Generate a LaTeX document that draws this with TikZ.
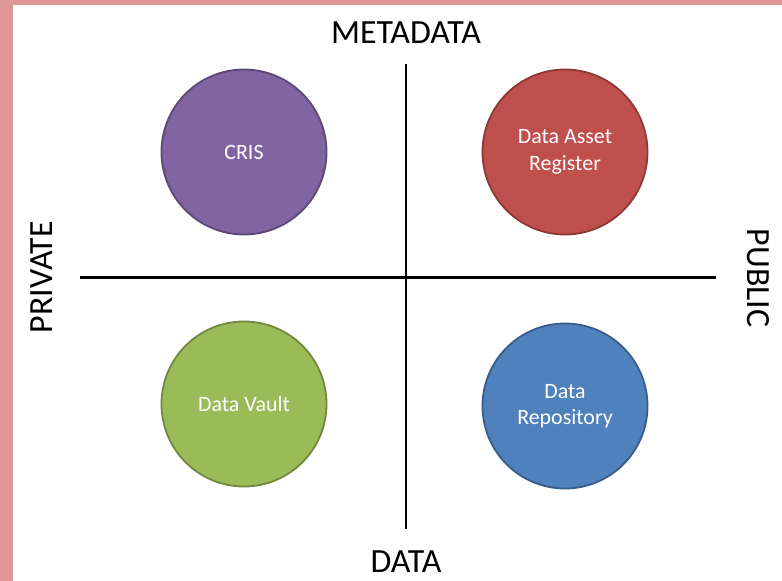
\documentclass[tikz,border=0pt]{standalone}
\usepackage{fontspec}
\setmainfont{Carlito}
\definecolor{pinkframe}{HTML}{DE9797}
\definecolor{cpurple}{HTML}{8064A2}
\definecolor{bpurple}{HTML}{5C4776}
\definecolor{cred}{HTML}{C0504D}
\definecolor{bred}{HTML}{8C3836}
\definecolor{cgreen}{HTML}{9BBB59}
\definecolor{bgreen}{HTML}{71893F}
\definecolor{cblue}{HTML}{4F81BD}
\definecolor{bblue}{HTML}{385D8A}
\tikzset{
  blob/.style={circle, minimum size=165bp, inner sep=0pt, line width=1.8bp,
    text=white, align=center, font=\fontsize{22}{26.5}\selectfont},
  axislabel/.style={inner sep=0pt, font=\fontsize{34}{40}\selectfont},
  axisline/.style={line width=2.6bp, black}
}
\begin{document}
\begin{tikzpicture}[x=1bp, y=-1bp]
\useasboundingbox (0,0) rectangle (782,581);
\fill[white] (0,0) rectangle (782,581);
\fill[pinkframe] (0,0) rectangle (13,581);
\fill[pinkframe] (0,0) rectangle (782,5);
% axes
\coordinate (left) at (80,277.5);
\coordinate (right) at (716,277.5);
\coordinate (top) at (406,64);
\coordinate (bottom) at (406,529);
\draw[axisline] (left) -- (right);
\draw[axisline] (top) -- (bottom);
% labels
\node[axislabel] (meta) at (406,33) {METADATA};
\node[axislabel] (data) at (406,562) {DATA};
\node[axislabel, rotate=90] (priv) at (42,277) {PRIVATE};
\node[axislabel, rotate=-90] (pub) at (758,278) {PUBLIC};
% circles
\node[blob, fill=cpurple, draw=bpurple] (cris) at (244,152) {CRIS};
\node[blob, fill=cred, draw=bred] (dar) at (565,152) {Data Asset\\Register};
\node[blob, fill=cgreen, draw=bgreen] (vault) at (244,404) {Data Vault};
\node[blob, fill=cblue, draw=bblue] (repo) at (565,406) {Data\\Repository};
\end{tikzpicture}
\end{document}
